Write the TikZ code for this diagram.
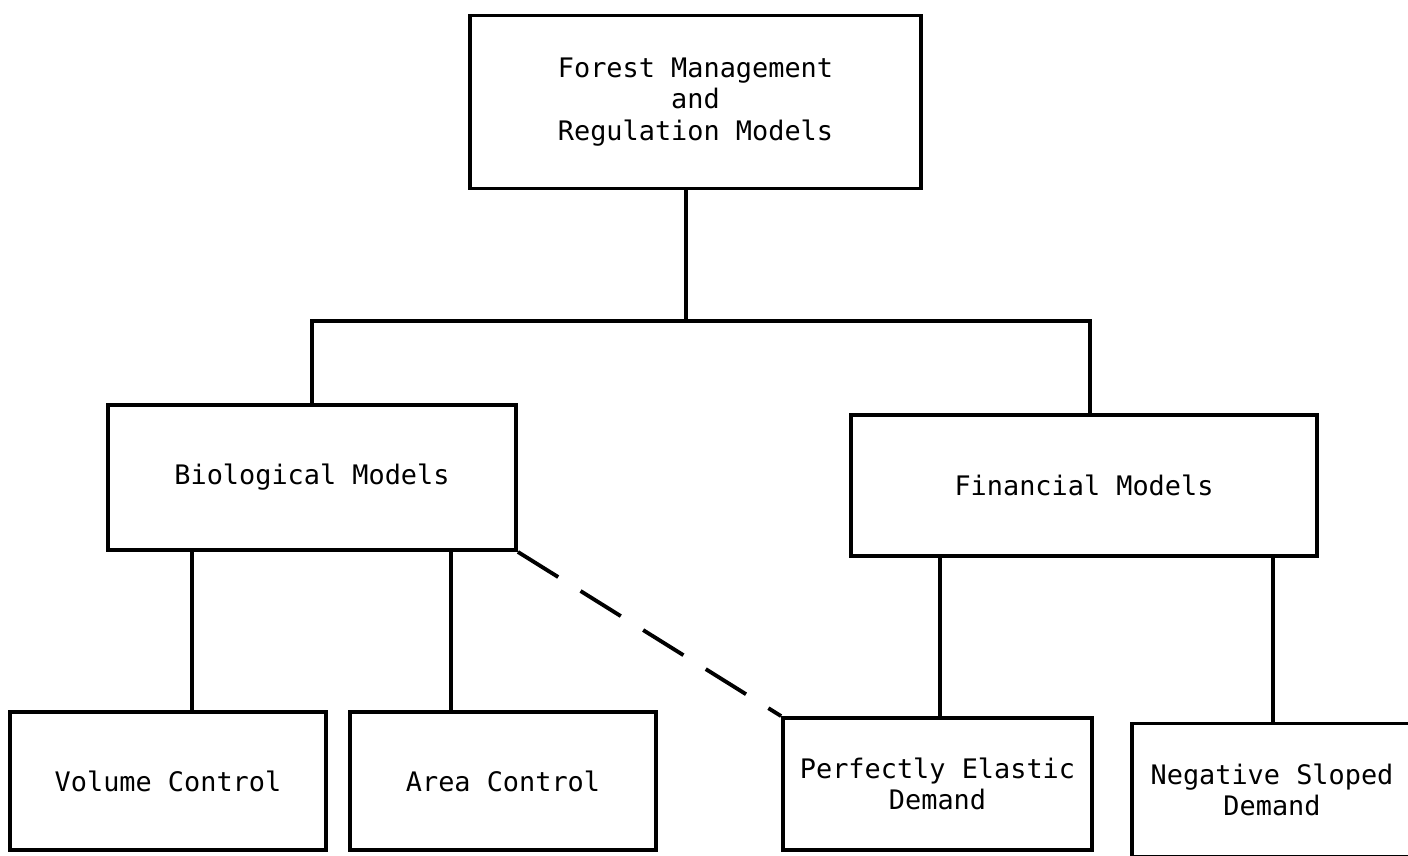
\documentclass[tikz,border=0pt]{standalone}
\usepackage{fontspec}
\setmonofont{DejaVu Sans Mono}
\usepackage{tikz}
\usetikzlibrary{calc}

\begin{document}
\begin{tikzpicture}[x=0.02cm, y=-0.02cm,
		modelbox/.style={draw, line width=2.2pt, align=center, inner sep=0pt,
			font=\ttfamily\fontsize{15.3}{18}\selectfont},
		link/.style={line width=2.2pt},
		loose/.style={line width=2.2pt, dash pattern=on 27pt off 15pt}]
		%%%%% START %%%%%
		
		\useasboundingbox (0, 0) rectangle (1408, 855);
		
		\node[modelbox, minimum width=451*0.02cm, minimum height=173*0.02cm] (forest) at (695.5, 102) {Forest Management\\and\\Regulation Models};
		
		\node[modelbox, minimum width=408*0.02cm, minimum height=145*0.02cm] (bio) at (312, 477.5) {Biological Models};
		\node[modelbox, minimum width=466*0.02cm, minimum height=141*0.02cm] (fin) at (1084, 485.5) {Financial Models};
		
		\node[modelbox, minimum width=316*0.02cm, minimum height=138*0.02cm] (volume) at (168, 781) {Volume Control};
		\node[modelbox, minimum width=306*0.02cm, minimum height=138*0.02cm] (area) at (503, 781) {Area Control};
		\node[modelbox, minimum width=309*0.02cm, minimum height=132*0.02cm] (elastic) at (937.5, 784) {Perfectly Elastic\\Demand};
		\node[modelbox, minimum width=280*0.02cm, minimum height=133*0.02cm] (sloped) at (1272, 790) {Negative Sloped\\Demand};
		
		% tree from the top box
		\coordinate (split) at (686, 321);
		\draw[link] (forest.south -| split) -- (split);
		\draw[link] (bio.north) |- (split) -| (fin.north -| 1090, 0);
		
		\draw[link] (volume.north -| 192, 0) -- (bio.south -| 192, 0);
		\draw[link] (area.north -| 451, 0) -- (bio.south -| 451, 0);
		\draw[link] (elastic.north -| 940, 0) -- (fin.south -| 940, 0);
		\draw[link] (sloped.north -| 1273, 0) -- (fin.south -| 1273, 0);
		
		\draw[loose] (bio.south east) -- (elastic.north west);
		
		%%%%% END %%%%%
	\end{tikzpicture}
\end{document}
